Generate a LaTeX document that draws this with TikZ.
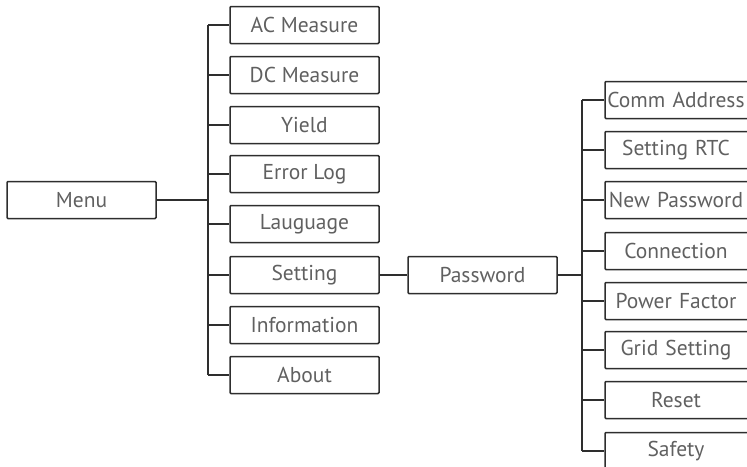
\documentclass[tikz,border=0pt]{standalone}
\usepackage{fontspec}
\setmainfont{PT Sans}
\definecolor{boxline}{HTML}{2E2E2E}
\definecolor{txt}{HTML}{606060}
\begin{document}
\begin{tikzpicture}[x=1pt,y=-1pt,
  menubox/.style={draw=boxline,line width=1.5pt,rounded corners=1pt,minimum width=149pt,minimum height=37pt,inner sep=0pt,text=txt,font=\fontsize{21.5}{26}\selectfont},
  subbox/.style={menubox,text width=149pt,align=center,execute at begin node=\hspace*{-7pt}},
  conn/.style={draw=boxline,line width=1.5pt}]
\useasboundingbox (0,0) rectangle (747,466);
\clip (0,0) rectangle (747,466);
\node[menubox] (menu) at (81.5,200) {Menu};
\node[menubox] (ac) at (304.5,25) {AC Measure};
\node[menubox] (dc) at (304.5,75) {DC Measure};
\node[menubox] (yield) at (304.5,125) {Yield};
\node[menubox] (err) at (304.5,174) {Error Log};
\node[menubox] (lang) at (304.5,224) {Lauguage};
\node[menubox] (set) at (304.5,275) {Setting};
\node[menubox] (info) at (304.5,325) {Information};
\node[menubox] (about) at (304.5,375) {About};
\node[menubox] (pw) at (482.5,275) {Password};
\node[subbox] (comm) at (679.5,100) {Comm Address};
\node[subbox] (rtc) at (679.5,150) {Setting RTC};
\node[subbox] (npw) at (679.5,200) {New Password};
\node[subbox] (conx) at (679.5,251) {Connection};
\node[subbox] (pf) at (679.5,301) {Power Factor};
\node[subbox] (grid) at (679.5,350) {Grid Setting};
\node[subbox] (reset) at (679.5,400) {Reset};
\node[subbox] (safe) at (679.5,451) {Safety};
\coordinate (t1) at (208,200);
\coordinate (t2) at (582,275);
\draw[conn] (menu.east) -- (t1);
\draw[conn] (t1 |- ac) -- (t1 |- about);
\foreach \n in {ac,dc,yield,err,lang,set,info,about}
  \draw[conn] (t1 |- \n) -- (\n.west);
\draw[conn] (set.east) -- (pw.west);
\draw[conn] (pw.east) -- (t2);
\draw[conn] (t2 |- comm) -- (t2 |- safe);
\foreach \n in {comm,rtc,npw,conx,pf,grid,reset,safe}
  \draw[conn] (t2 |- \n) -- (\n.west);
\end{tikzpicture}
\end{document}
